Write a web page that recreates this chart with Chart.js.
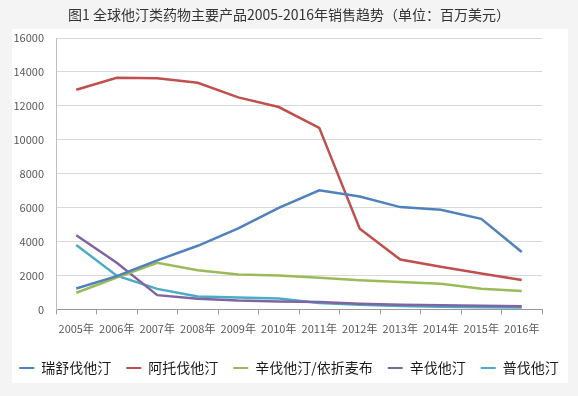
<!DOCTYPE html>
<html>
<head>
<meta charset="utf-8">
<script src="https://cdn.jsdelivr.net/npm/chart.js@4"></script>
<style>
  html, body { margin: 0; padding: 0; background: #f4f4f4; }
  #wrap { position: relative; width: 578px; height: 396px; }
</style>
</head>
<body>
<div id="wrap"><canvas id="chart"></canvas></div>
<script>
const years = ['2005年', '2006年', '2007年', '2008年', '2009年', '2010年', '2011年', '2012年', '2013年', '2014年', '2015年', '2016年'];

const rosuvastatin = [1230, 1960, 2890, 3750, 4780, 5990, 7020, 6660, 6030, 5880, 5340, 3380];
const atorvastatin = [12950, 13660, 13630, 13360, 12500, 11930, 10700, 4760, 2940, 2510, 2120, 1730];
const simvaEzetimibe = [980, 1870, 2750, 2310, 2060, 2000, 1860, 1720, 1610, 1510, 1220, 1090];
const simvastatin = [4370, 2750, 840, 630, 520, 470, 430, 340, 280, 250, 220, 190];
const pravastatin = [3790, 1990, 1210, 760, 700, 640, 380, 280, 200, 160, 130, 110];

const seriesNames = ['瑞舒伐他汀', '阿托伐他汀', '辛伐他汀/依折麦布', '辛伐他汀', '普伐他汀'];
const seriesColors = ['#4f81bd', '#c0504d', '#9bbb59', '#8064a2', '#4bacc6'];

const yTicks = [0, 2000, 4000, 6000, 8000, 10000, 12000, 14000, 16000];

const FONT = '"Noto Sans CJK SC", "Microsoft YaHei", sans-serif';

// white card behind the plot, page stays grey
const cardBg = {
  id: 'cardBg',
  beforeDraw(chart) {
    const ctx = chart.ctx;
    ctx.save();
    ctx.fillStyle = '#f4f4f4';
    ctx.fillRect(0, 0, chart.width, chart.height);
    ctx.fillStyle = '#ffffff';
    ctx.fillRect(12, 29, 556, 354);
    ctx.restore();
  }
};

const allSeries = [rosuvastatin, atorvastatin, simvaEzetimibe, simvastatin, pravastatin];

const ctx = document.getElementById('chart').getContext('2d');
new Chart(ctx, {
  type: 'line',
  data: {
    labels: years,
    datasets: allSeries.map((values, i) => ({
      label: seriesNames[i],
      data: values,
      borderColor: seriesColors[i],
      backgroundColor: seriesColors[i],
      borderWidth: 2.5,
      pointRadius: 0,
      tension: 0,
      fill: false,
    })),
  },
  options: {
    responsive: true,
    maintainAspectRatio: false,
    animation: false,
    layout: {
      padding: { left: 0, right: 0, top: 0, bottom: 11 },
    },
    plugins: {
      title: {
        display: true,
        text: '图1 全球他汀类药物主要产品2005-2016年销售趋势（单位：百万美元）',
        color: '#333333',
        font: { family: FONT, size: 14, weight: 'normal' },
        padding: { top: 6, bottom: 15.2 },
      },
      legend: {
        position: 'bottom',
        labels: {
          color: '#1a1a1a',
          font: { family: FONT, size: 14 },
          boxWidth: 15,
          boxHeight: 2,
          padding: 15,
          generateLabels(chart) {
            return Chart.defaults.plugins.legend.labels.generateLabels(chart)
              .map(item => ({ ...item, lineWidth: 0 }));
          },
        },
      },
      tooltip: { enabled: false },
    },
    scales: {
      x: {
        offset: true,
        grid: {
          offset: true,
          drawOnChartArea: false,
          drawTicks: true,
          tickLength: 5,
          color: '#9a9a9a',
        },
        border: { color: '#9a9a9a' },
        ticks: {
          color: '#595959',
          font: { family: FONT, size: 11 },
          padding: 8,
          maxRotation: 0,
          autoSkip: false,
        },
        afterFit(scale) { scale.height = 36.6; },
      },
      y: {
        min: 0,
        max: 16000,
        afterBuildTicks(scale) {
          scale.ticks = yTicks.map(v => ({ value: v }));
        },
        grid: {
          color: '#d9d9d9',
          drawTicks: false,
        },
        border: { color: '#bfbfbf' },
        ticks: {
          color: '#595959',
          font: { family: FONT, size: 11 },
          padding: 12,
          callback: v => String(v),
        },
        afterFit(scale) { scale.width = 56; },
      },
      // empty right-hand axis, only reserves the white margin right of the plot
      yRight: {
        position: 'right',
        min: 0,
        max: 16000,
        grid: { drawOnChartArea: false, drawTicks: false },
        border: { display: false },
        ticks: { display: false },
        afterFit(scale) { scale.width = 36; },
      },
    },
  },
  plugins: [cardBg],
});
</script>
</body>
</html>
